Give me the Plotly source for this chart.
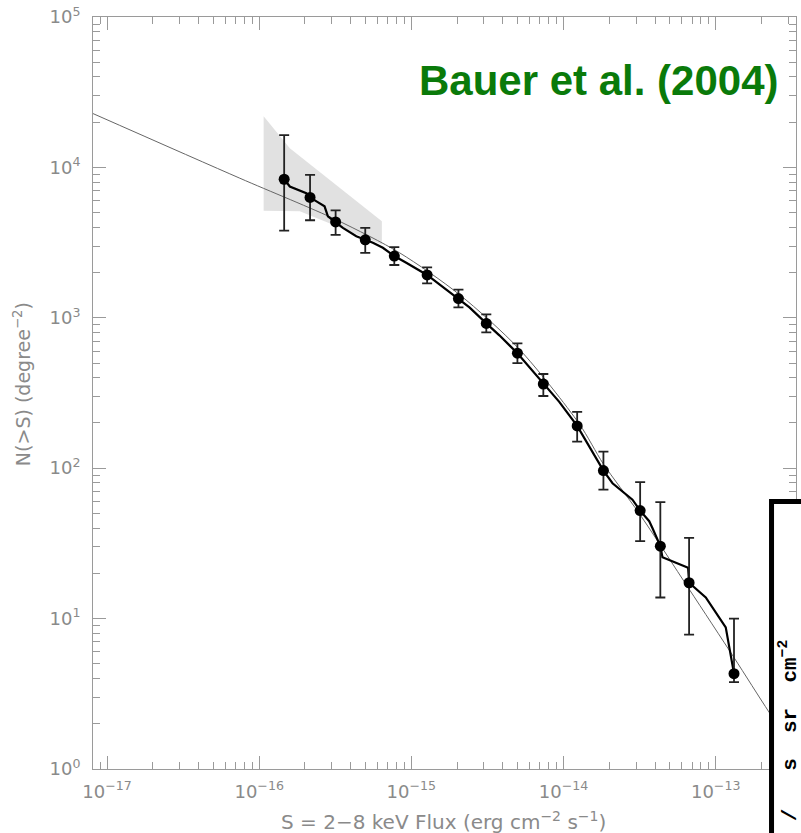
import plotly.graph_objects as go

# ---- data ----
flux = [1.46e-16, 2.16e-16, 3.18e-16, 4.98e-16, 7.73e-16, 1.27e-15, 2.04e-15, 3.11e-15,
        4.98e-15, 7.37e-15, 1.23e-14, 1.83e-14, 3.19e-14, 4.33e-14, 6.69e-14, 1.32e-13]
counts = [8350, 6320, 4340, 3300, 2575, 1928, 1344, 918,
          582, 363, 191, 96.4, 52.2, 30.3, 17.3, 4.30]
err_hi = [16400, 8920, 5190, 3960, 2951, 2163, 1541, 1053,
          677, 423, 237, 129, 80.7, 59.5, 34.4, 10.0]
err_lo = [3800, 4455, 3560, 2707, 2245, 1696, 1172, 801,
          499, 302, 150, 71.9, 32.7, 13.8, 7.81, 3.78]

curve_flux = [1.46e-16, 1.59e-16, 2.04e-16, 2.16e-16, 2.38e-16, 2.69e-16, 2.83e-16, 3.18e-16,
              3.55e-16, 4.35e-16, 4.98e-16, 5.59e-16, 6.50e-16, 7.73e-16, 9.26e-16, 1.13e-15,
              1.27e-15, 1.53e-15, 2.04e-15, 2.41e-15, 3.11e-15, 3.79e-15, 4.98e-15, 5.96e-15,
              7.37e-15, 9.38e-15, 1.23e-14, 1.48e-14, 1.83e-14, 2.10e-14, 2.57e-14, 2.84e-14,
              3.19e-14, 3.66e-14, 3.84e-14, 4.33e-14, 4.47e-14, 6.59e-14, 6.69e-14, 8.61e-14,
              1.165e-13, 1.32e-13]
curve_counts = [8350, 7475, 6750, 6320, 5950, 5513, 4735, 4340,
                3963, 3491, 3300, 3154, 2922, 2575, 2325, 2049,
                1928, 1671, 1344, 1172, 918, 765, 582, 470,
                363, 276, 191, 139, 96.4, 79.4, 66.6, 61.7,
                52.2, 44.4, 40.0, 30.3, 25.6, 21.8, 17.3, 13.8,
                8.73, 4.30]

model_flux = [8.09e-18, 7.46e-17, 3.23e-16, 8.37e-16, 2.07e-15, 5.13e-15, 1.27e-14,
              1.825e-14, 3.14e-14, 6.69e-14, 1.32e-13, 2.24e-13, 3.37e-13]
model_counts = [22830, 8485, 4476, 2707, 1428, 618, 197,
                107, 50.1, 15.7, 5.50, 2.39, 1.30]

band_flux = [1.07e-16, 1.59e-16, 6.40e-16, 6.40e-16, 1.85e-16, 1.07e-16]
band_counts = [21900, 13400, 4390, 3070, 5110, 5160]

x_tickvals = [1e-17, 1e-16, 1e-15, 1e-14, 1e-13]
x_ticktext = ["10<sup>\u221217</sup>", "10<sup>\u221216</sup>", "10<sup>\u221215</sup>",
              "10<sup>\u221214</sup>", "10<sup>\u221213</sup>"]
y_tickvals = [1, 10, 100, 1000, 1e4, 1e5]
y_ticktext = ["10<sup>0</sup>", "10<sup>1</sup>", "10<sup>2</sup>", "10<sup>3</sup>",
              "10<sup>4</sup>", "10<sup>5</sup>"]

GRAY = "#8a8a8a"
AXC = "#9a9a9a"
FONT = "DejaVu Sans"

fig = go.Figure()

fig.add_trace(go.Scatter(x=band_flux, y=band_counts, mode="lines", fill="toself",
                         fillcolor="#e1e1e1", line=dict(width=0), hoverinfo="skip",
                         showlegend=False))
fig.add_trace(go.Scatter(x=model_flux, y=model_counts, mode="lines",
                         line=dict(color="#666666", width=1, shape="spline", smoothing=0.8),
                         showlegend=False))
fig.add_trace(go.Scatter(x=curve_flux, y=curve_counts, mode="lines",
                         line=dict(color="black", width=2.2), showlegend=False))
fig.add_trace(go.Scatter(
    x=flux, y=counts, mode="markers",
    marker=dict(color="black", size=11, line=dict(color="#222", width=0)),
    error_y=dict(type="data", symmetric=False,
                 array=[h - c for h, c in zip(err_hi, counts)],
                 arrayminus=[c - l for c, l in zip(counts, err_lo)],
                 color="#222222", thickness=1.8, width=5),
    showlegend=False))

axis_common = dict(
    type="log", showgrid=False, zeroline=False, showline=True, linecolor=AXC, linewidth=1,
    mirror="allticks", ticks="inside", ticklen=13, tickcolor=AXC, tickwidth=1,
    tickmode="array", tickfont=dict(family=FONT, size=18, color=GRAY),
    ticklabeloverflow="allow",
    minor=dict(ticks="inside", ticklen=7, tickcolor=AXC, tickwidth=1, dtick="D1", showgrid=False),
)

fig.update_xaxes(**axis_common, range=[-17.092, -12.472], tickvals=x_tickvals,
                 ticktext=x_ticktext, ticklabelstandoff=6)
fig.update_yaxes(**axis_common, range=[-0.0008, 5.0008], tickvals=y_tickvals,
                 ticktext=y_ticktext, ticklabelstandoff=8)

fig.add_annotation(text="Bauer et al. (2004)", xref="paper", yref="paper",
                   x=(782 - 93) / 704, y=(769 - 77) / 756, xanchor="right", yanchor="middle",
                   showarrow=False,
                   font=dict(family="Liberation Sans, Arial", size=42, color="rgb(10,122,10)",
                             weight="bold"))
fig.add_annotation(text="N(>S) (degree<sup>\u22122</sup>)", xref="paper", yref="paper",
                   x=(22 - 93) / 704, y=(769 - 382) / 756, xanchor="center", yanchor="middle",
                   textangle=-90, showarrow=False,
                   font=dict(family=FONT, size=19, color=GRAY))
fig.add_annotation(text="S = 2\u22128 keV Flux (erg cm<sup>\u22122</sup> s<sup>\u22121</sup>)",
                   xref="paper", yref="paper",
                   x=(444 - 93) / 704, y=(769 - 821) / 756, xanchor="center", yanchor="middle",
                   showarrow=False, font=dict(family=FONT, size=20, color=GRAY))

# overlapping panel from the neighbouring figure (bottom right)
fig.add_shape(type="rect", xref="paper", yref="paper",
              x0=(772.5 - 93) / 704, x1=1.2, y0=(769 - 500) / 756, y1=-0.3,
              line=dict(color="black", width=5), fillcolor="white", layer="above")
fig.add_annotation(text="/   s  sr  cm<sup>\u22122</sup>", xref="paper", yref="paper",
                   x=(789 - 93) / 704, y=(769 - 638) / 756, xanchor="center", yanchor="top",
                   textangle=-90, showarrow=False,
                   font=dict(family="Liberation Mono, Courier New", size=21, color="black",
                             weight="bold"))

fig.update_layout(width=801, height=833, margin=dict(l=93, r=4, t=13, b=64),
                  paper_bgcolor="white", plot_bgcolor="white", showlegend=False)

fig.write_html("out.html")
